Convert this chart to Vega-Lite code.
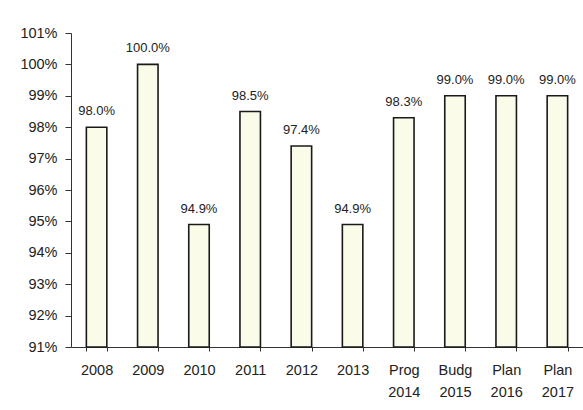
{
  "$schema": "https://vega.github.io/schema/vega-lite/v6.json",
  "autosize": "none",
  "width": 512,
  "height": 314,
  "padding": {"left": 71, "top": 33, "right": 0, "bottom": 63},
  "background": "white",
  "config": {
    "view": {"stroke": null},
    "font": "Liberation Sans",
    "axis": {"labelFont": "Liberation Sans", "labelColor": "#222", "labelFontSize": 14.5, "domainColor": "#333", "tickColor": "#333", "grid": false}
  },
  "data": {
    "values": [
      {"period": "2008", "rate": 0.980},
      {"period": "2009", "rate": 1.000},
      {"period": "2010", "rate": 0.949},
      {"period": "2011", "rate": 0.985},
      {"period": "2012", "rate": 0.974},
      {"period": "2013", "rate": 0.949},
      {"period": "Prog 2014", "rate": 0.983},
      {"period": "Budg 2015", "rate": 0.990},
      {"period": "Plan 2016", "rate": 0.990},
      {"period": "Plan 2017", "rate": 0.990}
    ]
  },
  "encoding": {
    "x": {
      "field": "period",
      "type": "nominal",
      "sort": null,
      "scale": {"paddingInner": 0.6, "paddingOuter": 0.3},
      "axis": {
        "title": null,
        "labelAngle": 0,
        "labelExpr": "isValid(datum.value) ? split(datum.value, ' ') : ''",
        "labelLineHeight": 22,
        "labelPadding": 12,
        "labelOverlap": false,
        "tickBand": "extent",
        "tickSize": 4
      }
    },
    "y": {
      "field": "rate",
      "type": "quantitative",
      "scale": {"domain": [0.91, 1.01], "zero": false, "nice": false},
      "axis": {"title": null, "labelExpr": "format(datum.value * 100, '.0f') + '%'", "values": [0.91,0.92,0.93,0.94,0.95,0.96,0.97,0.98,0.99,1.0,1.01], "labelOverlap": false, "tickCount": 11, "tickSize": 6, "labelPadding": 8}
    }
  },
  "layer": [
    {
      "mark": {"type": "bar", "fill": "#fbfbea", "stroke": "#1a1a1a", "strokeWidth": 1.6},
      "encoding": {
        "y2": {"datum": 0.91}
      }
    },
    {
      "mark": {"type": "text", "baseline": "alphabetic", "dy": -12, "fontSize": 13, "color": "#222", "font": "Liberation Sans"},
      "encoding": {
        "text": {"field": "rate", "type": "quantitative", "format": ".1%"}
      }
    }
  ]
}
